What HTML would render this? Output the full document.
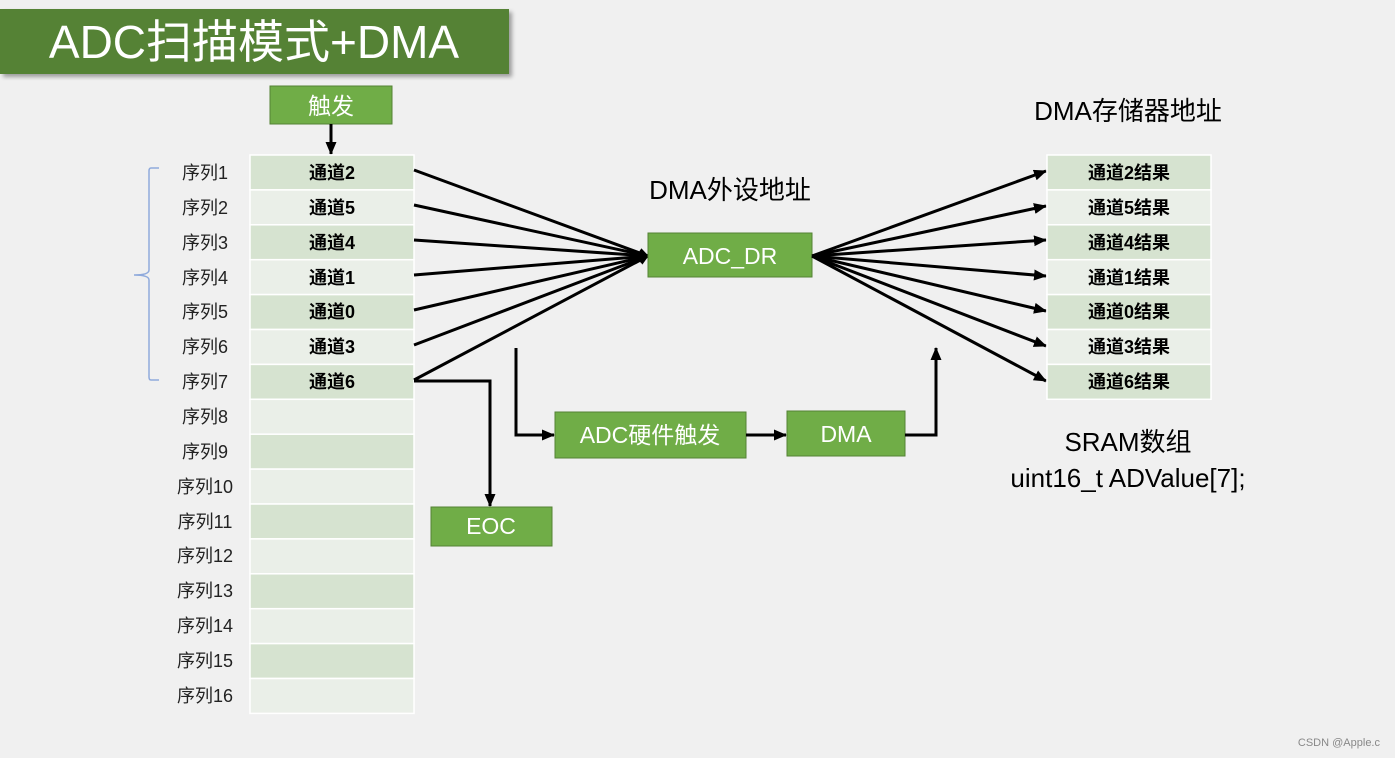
<!DOCTYPE html>
<html><head><meta charset="utf-8"><style>
html,body{margin:0;padding:0;background:#f0f0f0;}
svg{display:block;}
text{font-family:"Liberation Sans","Noto Sans CJK SC",sans-serif;}
</style></head><body>
<svg width="1395" height="758" viewBox="0 0 1395 758" xmlns="http://www.w3.org/2000/svg">
<defs>
<marker id="a" markerWidth="10" markerHeight="10" refX="9" refY="5" orient="auto" markerUnits="userSpaceOnUse" viewBox="0 0 10 10"><path d="M0,0 L10,5 L0,10 z" fill="#000"/></marker>
<marker id="b" markerWidth="13" markerHeight="11" refX="12" refY="5.5" orient="auto" markerUnits="userSpaceOnUse" viewBox="0 0 13 11"><path d="M0,0 L13,5.5 L0,11 z" fill="#000"/></marker>
<filter id="sh"><feDropShadow dx="3" dy="3" stdDeviation="2" flood-color="#000" flood-opacity="0.35"/></filter>
</defs>
<rect width="1395" height="758" fill="#f0f0f0"/>
<rect x="0" y="9" width="509" height="65" fill="#548235" filter="url(#sh)"/>
<text x="254" y="58" font-size="46" fill="#fff" text-anchor="middle">ADC扫描模式+DMA</text>
<rect x="270" y="86" width="122" height="38" fill="#70ad47" stroke="#548235" stroke-width="1"/>
<text x="331" y="114" font-size="23" fill="#fff" text-anchor="middle">触发</text>
<line x1="331" y1="124" x2="331" y2="154" stroke="#000" stroke-width="3" marker-end="url(#b)"/>
<g stroke="#fff" stroke-width="1.5">
<rect x="250" y="155" width="164" height="34.9" fill="#d6e3d0"/>
<rect x="250" y="189.9" width="164" height="34.9" fill="#eaefe8"/>
<rect x="250" y="224.8" width="164" height="34.9" fill="#d6e3d0"/>
<rect x="250" y="259.7" width="164" height="34.9" fill="#eaefe8"/>
<rect x="250" y="294.6" width="164" height="34.9" fill="#d6e3d0"/>
<rect x="250" y="329.5" width="164" height="34.9" fill="#eaefe8"/>
<rect x="250" y="364.4" width="164" height="34.9" fill="#d6e3d0"/>
<rect x="250" y="399.3" width="164" height="34.9" fill="#eaefe8"/>
<rect x="250" y="434.2" width="164" height="34.9" fill="#d6e3d0"/>
<rect x="250" y="469.1" width="164" height="34.9" fill="#eaefe8"/>
<rect x="250" y="504" width="164" height="34.9" fill="#d6e3d0"/>
<rect x="250" y="538.9" width="164" height="34.9" fill="#eaefe8"/>
<rect x="250" y="573.8" width="164" height="34.9" fill="#d6e3d0"/>
<rect x="250" y="608.7" width="164" height="34.9" fill="#eaefe8"/>
<rect x="250" y="643.6" width="164" height="34.9" fill="#d6e3d0"/>
<rect x="250" y="678.5" width="164" height="34.9" fill="#eaefe8"/>
</g>
<g font-size="18" font-weight="bold" fill="#000" text-anchor="middle">
<text x="332" y="179">通道2</text>
<text x="332" y="214">通道5</text>
<text x="332" y="249">通道4</text>
<text x="332" y="284">通道1</text>
<text x="332" y="318">通道0</text>
<text x="332" y="353">通道3</text>
<text x="332" y="388">通道6</text>
</g>
<g font-size="18" fill="#222" text-anchor="middle">
<text x="205" y="179">序列1</text>
<text x="205" y="214">序列2</text>
<text x="205" y="249">序列3</text>
<text x="205" y="284">序列4</text>
<text x="205" y="318">序列5</text>
<text x="205" y="353">序列6</text>
<text x="205" y="388">序列7</text>
<text x="205" y="423">序列8</text>
<text x="205" y="458">序列9</text>
<text x="205" y="493">序列10</text>
<text x="205" y="528">序列11</text>
<text x="205" y="562">序列12</text>
<text x="205" y="597">序列13</text>
<text x="205" y="632">序列14</text>
<text x="205" y="667">序列15</text>
<text x="205" y="702">序列16</text>
</g>
<path d="M159,168 L151,168 Q149,168 149,171 L149,270 Q149,275 134,275 Q149,275 149,280 L149,377 Q149,380 151,380 L159,380" fill="none" stroke="#8faadc" stroke-width="1.5"/>
<g stroke="#000" stroke-width="3" marker-end="url(#a)">
<line x1="414" y1="170" x2="648" y2="256"/>
<line x1="414" y1="205" x2="648" y2="256"/>
<line x1="414" y1="240" x2="648" y2="256"/>
<line x1="414" y1="275" x2="648" y2="256"/>
<line x1="414" y1="310" x2="648" y2="256"/>
<line x1="414" y1="345" x2="648" y2="256"/>
<line x1="414" y1="380" x2="648" y2="256"/>
</g>
<text x="730" y="199" font-size="26" fill="#000" text-anchor="middle">DMA外设地址</text>
<rect x="648" y="233" width="164" height="44" fill="#70ad47" stroke="#548235" stroke-width="1"/>
<text x="730" y="264" font-size="23" fill="#fff" text-anchor="middle">ADC_DR</text>
<g stroke="#000" stroke-width="3" marker-end="url(#b)">
<line x1="812" y1="256" x2="1046" y2="171"/>
<line x1="812" y1="256" x2="1046" y2="206"/>
<line x1="812" y1="256" x2="1046" y2="240"/>
<line x1="812" y1="256" x2="1046" y2="276"/>
<line x1="812" y1="256" x2="1046" y2="311"/>
<line x1="812" y1="256" x2="1046" y2="346"/>
<line x1="812" y1="256" x2="1046" y2="381"/>
</g>
<text x="1128" y="120" font-size="26" fill="#000" text-anchor="middle">DMA存储器地址</text>
<g stroke="#fff" stroke-width="1.5">
<rect x="1047" y="155" width="164" height="34.9" fill="#d6e3d0"/>
<rect x="1047" y="189.9" width="164" height="34.9" fill="#eaefe8"/>
<rect x="1047" y="224.8" width="164" height="34.9" fill="#d6e3d0"/>
<rect x="1047" y="259.7" width="164" height="34.9" fill="#eaefe8"/>
<rect x="1047" y="294.6" width="164" height="34.9" fill="#d6e3d0"/>
<rect x="1047" y="329.5" width="164" height="34.9" fill="#eaefe8"/>
<rect x="1047" y="364.4" width="164" height="34.9" fill="#d6e3d0"/>
</g>
<g font-size="18" font-weight="bold" fill="#000" text-anchor="middle">
<text x="1129" y="179">通道2结果</text>
<text x="1129" y="214">通道5结果</text>
<text x="1129" y="249">通道4结果</text>
<text x="1129" y="284">通道1结果</text>
<text x="1129" y="318">通道0结果</text>
<text x="1129" y="353">通道3结果</text>
<text x="1129" y="388">通道6结果</text>
</g>
<text x="1128" y="451" font-size="26" fill="#000" text-anchor="middle">SRAM数组</text>
<text x="1128" y="487" font-size="26" fill="#000" text-anchor="middle">uint16_t ADValue[7];</text>
<polyline points="516,348 516,435 554,435" fill="none" stroke="#000" stroke-width="3" marker-end="url(#b)"/>
<rect x="555" y="412" width="191" height="46" fill="#70ad47" stroke="#548235" stroke-width="1"/>
<text x="650" y="443" font-size="23" fill="#fff" text-anchor="middle">ADC硬件触发</text>
<line x1="746" y1="435" x2="786" y2="435" stroke="#000" stroke-width="3" marker-end="url(#b)"/>
<rect x="787" y="411" width="118" height="45" fill="#70ad47" stroke="#548235" stroke-width="1"/>
<text x="846" y="442" font-size="23" fill="#fff" text-anchor="middle">DMA</text>
<polyline points="905,435 936,435 936,348" fill="none" stroke="#000" stroke-width="3" marker-end="url(#b)"/>
<polyline points="414,381 490,381 490,506" fill="none" stroke="#000" stroke-width="3" marker-end="url(#b)"/>
<rect x="431" y="507" width="121" height="39" fill="#70ad47" stroke="#548235" stroke-width="1"/>
<text x="491" y="534" font-size="23" fill="#fff" text-anchor="middle">EOC</text>
<text x="1380" y="746" font-size="11" fill="#888" text-anchor="end">CSDN @Apple.c</text>
</svg>
</body></html>
